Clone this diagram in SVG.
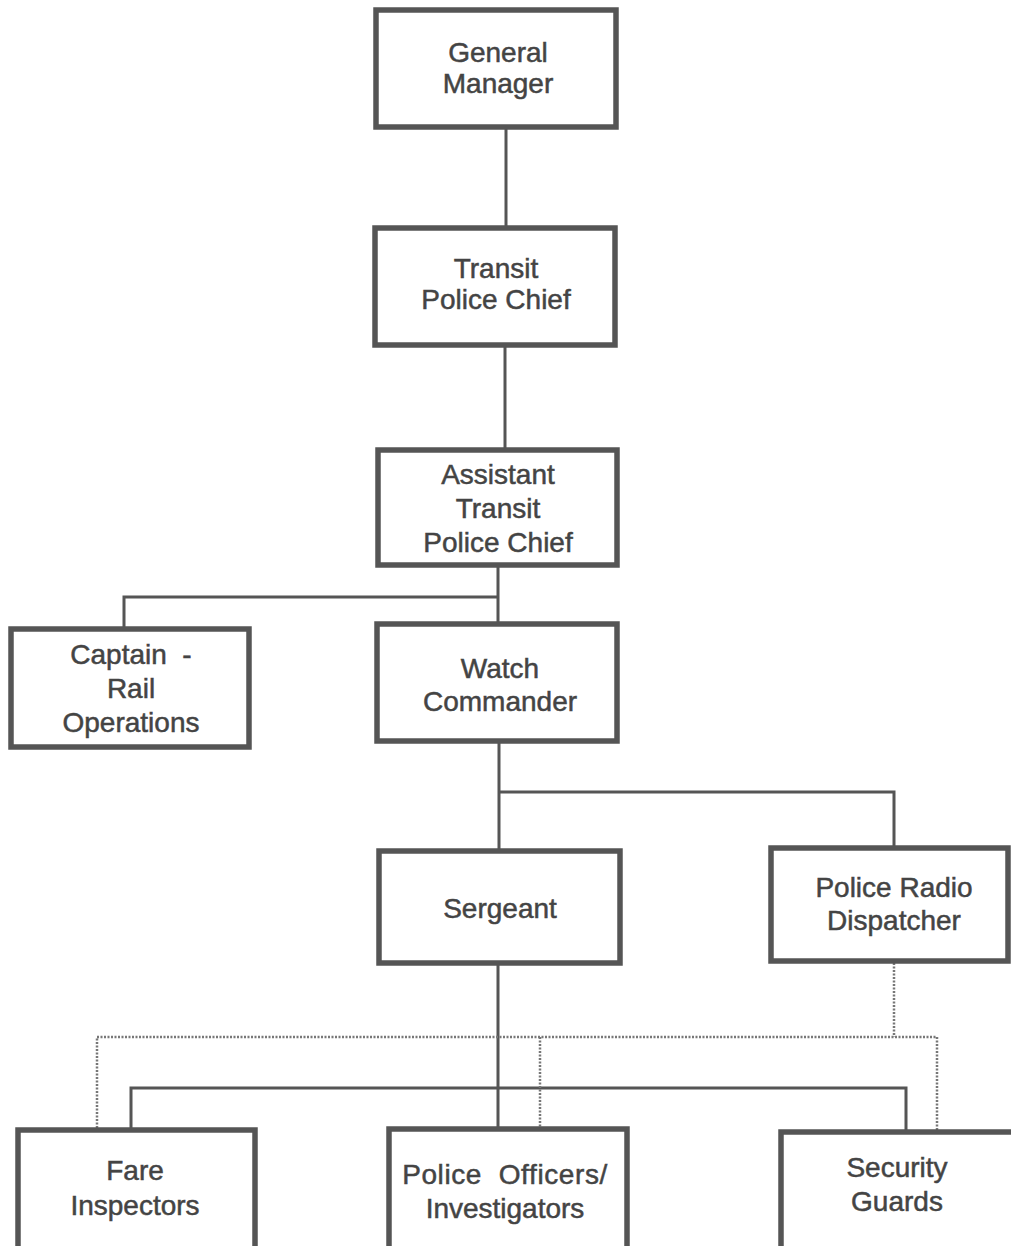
<svg xmlns="http://www.w3.org/2000/svg" width="1011" height="1246" viewBox="0 0 1011 1246">
<style>
.box{fill:#fff;stroke:#555;stroke-width:5.5}
.t{font-family:"Liberation Sans",Arial,sans-serif;font-size:28px;fill:#444;stroke:#444;stroke-width:0.5;text-anchor:middle}
.c{fill:none;stroke:#555;stroke-width:3}
.d{fill:none;stroke:#777;stroke-width:2.5;stroke-dasharray:2 1.5}
</style>
<rect width="1011" height="1246" fill="#fff"/>
<g id="connectors">
<path class="c" d="M506 128V226"/>
<path class="c" d="M505 346V448"/>
<path class="c" d="M498 566V622M498 597H124V628"/>
<path class="c" d="M499 743V849M499 792H894V846"/>
<path class="c" d="M498 965V1128M131 1128V1088H906V1130"/>
<path class="d" d="M894 963V1037M97 1128V1037H937V1130M540 1037V1128"/>
</g>
<g id="general-manager"><rect class="box" x="376" y="10" width="240" height="117"/><text class="t" x="498" y="62">General</text><text class="t" x="498" y="93">Manager</text></g>
<g id="transit-police-chief"><rect class="box" x="375" y="228" width="240" height="117"/><text class="t" x="496" y="278">Transit</text><text class="t" x="496" y="309">Police Chief</text></g>
<g id="assistant-transit-police-chief"><rect class="box" x="378" y="450" width="239" height="115"/><text class="t" x="498" y="484">Assistant</text><text class="t" x="498" y="518">Transit</text><text class="t" x="498" y="552">Police Chief</text></g>
<g id="captain-rail-operations"><rect class="box" x="11" y="629" width="238" height="118"/><text class="t" x="131" y="664" xml:space="preserve">Captain  -</text><text class="t" x="131" y="698">Rail</text><text class="t" x="131" y="732">Operations</text></g>
<g id="watch-commander"><rect class="box" x="377" y="624" width="240" height="117"/><text class="t" x="500" y="678">Watch</text><text class="t" x="500" y="711">Commander</text></g>
<g id="sergeant"><rect class="box" x="379" y="851" width="241" height="112"/><text class="t" x="500" y="918">Sergeant</text></g>
<g id="police-radio-dispatcher"><rect class="box" x="771" y="848" width="237" height="113"/><text class="t" x="894" y="897">Police Radio</text><text class="t" x="894" y="930">Dispatcher</text></g>
<g id="fare-inspectors"><rect class="box" x="18" y="1130" width="237" height="120"/><text class="t" x="135" y="1180">Fare</text><text class="t" x="135" y="1215">Inspectors</text></g>
<g id="police-officers-investigators"><rect class="box" x="389" y="1129" width="238" height="121"/><text class="t" x="505" y="1184" xml:space="preserve" letter-spacing="0.6">Police  Officers/</text><text class="t" x="505" y="1218">Investigators</text></g>
<g id="security-guards"><rect class="box" x="781" y="1132" width="235" height="118"/><text class="t" x="897" y="1177">Security</text><text class="t" x="897" y="1211">Guards</text></g>
</svg>
